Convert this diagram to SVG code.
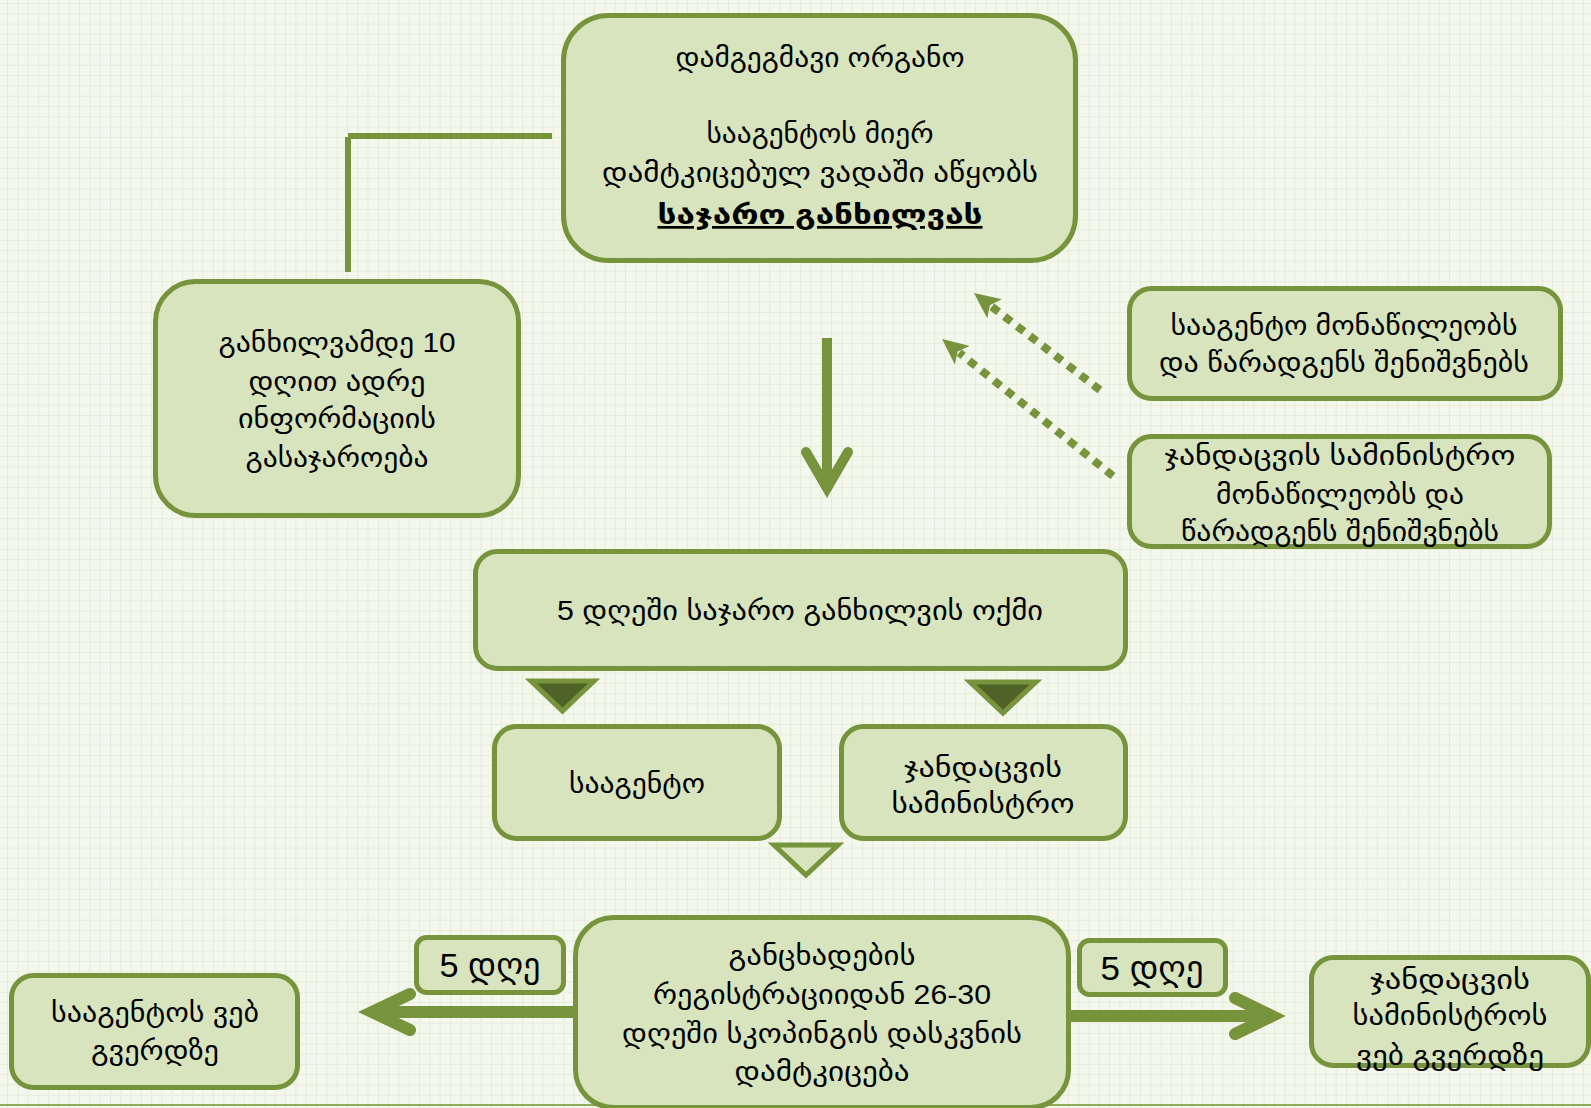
<svg xmlns="http://www.w3.org/2000/svg" width="1591" height="1108" viewBox="0 0 1591 1108">
<defs>
<pattern id="grid" x="7" y="3" width="10.3" height="10.3" patternUnits="userSpaceOnUse">
<path d="M0,0.5 H10.3 M0.5,0 V10.3" stroke="#e6ecda" stroke-width="1" fill="none"/>
</pattern>
<marker id="dotHead" viewBox="0 0 26 24" markerWidth="26" markerHeight="24" refX="4" refY="12" orient="auto" markerUnits="userSpaceOnUse">
<path d="M0,0 L26,12 L0,24 L6,12 Z" fill="#77933c"/>
</marker>
<style>
.box{fill:#d7e4bd;stroke:#77933c;stroke-width:5}
.t{font-family:'Liberation Sans','DejaVu Sans',sans-serif;font-size:27px;fill:#000;text-anchor:middle}
.big{font-size:34px}
.bold{font-weight:bold;text-decoration:underline}
.line{stroke:#77933c;fill:none}
.dot{stroke:#77933c;stroke-width:8;fill:none;stroke-dasharray:8.5 7.5}
.tri{fill:#4f6228;stroke:#77933c;stroke-width:5;stroke-linejoin:miter}
.tril{fill:#d7e4bd;stroke:#77933c;stroke-width:5;stroke-linejoin:miter}
</style>
</defs>
<rect x="0" y="0" width="1591" height="1108" fill="#f3f7ec"/>
<rect x="0" y="0" width="1591" height="1108" fill="url(#grid)"/>
<line x1="0" y1="1105" x2="1591" y2="1105" stroke="#8eab5a" stroke-width="2"/>

<g id="connectors">
<line class="line" x1="348" y1="136" x2="552" y2="136" stroke-width="6"/>
<line class="line" x1="348" y1="137" x2="348" y2="272" stroke-width="6"/>
<line class="line" x1="827" y1="338" x2="827" y2="490" stroke-width="10"/>
<polyline class="line" points="806,452 827,488 848,452" stroke-width="10" stroke-linecap="round" stroke-linejoin="miter"/>
<line class="dot" x1="1100" y1="390" x2="991.4" y2="306.4" marker-end="url(#dotHead)"/>
<line class="dot" x1="1113" y1="476" x2="959.2" y2="352.7" marker-end="url(#dotHead)"/>
<polygon class="tri" points="531,681 594,681 562.5,711"/>
<polygon class="tri" points="970,682 1036,682 1003,713"/>
<polygon class="tril" points="774,845 838,845 806,875"/>
<line class="line" x1="575" y1="1012" x2="378" y2="1012" stroke-width="12"/>
<polyline class="line" points="410,994 372,1012 410,1030" stroke-width="12" stroke-linecap="round" stroke-linejoin="miter"/>
<line class="line" x1="1069" y1="1016" x2="1266" y2="1016" stroke-width="12"/>
<polyline class="line" points="1235,998 1272,1016 1235,1034" stroke-width="12" stroke-linecap="round" stroke-linejoin="miter"/>
</g>

<g id="node-organ">
<rect class="box" x="563.5" y="15.5" width="512" height="245" rx="45"/>
<text class="t" x="820" y="67" textLength="289" lengthAdjust="spacingAndGlyphs">დამგეგმავი ორგანო</text>
<text class="t" x="820" y="143" textLength="227" lengthAdjust="spacingAndGlyphs">სააგენტოს მიერ</text>
<text class="t" x="820" y="182" textLength="436" lengthAdjust="spacingAndGlyphs">დამტკიცებულ ვადაში აწყობს</text>
<text class="t bold" x="820" y="224" textLength="325" lengthAdjust="spacingAndGlyphs">საჯარო განხილვას</text>
</g>

<g id="node-announce">
<rect class="box" x="155.5" y="281.5" width="363" height="234" rx="40"/>
<text class="t" x="337" y="352" textLength="237" lengthAdjust="spacingAndGlyphs">განხილვამდე 10</text>
<text class="t" x="337" y="391" textLength="177" lengthAdjust="spacingAndGlyphs">დღით ადრე</text>
<text class="t" x="337" y="428" textLength="198" lengthAdjust="spacingAndGlyphs">ინფორმაციის</text>
<text class="t" x="337" y="467" textLength="183" lengthAdjust="spacingAndGlyphs">გასაჯაროება</text>
</g>

<g id="node-agency-part">
<rect class="box" x="1129.5" y="288.5" width="431" height="110" rx="22"/>
<text class="t" x="1344" y="335" textLength="347" lengthAdjust="spacingAndGlyphs">სააგენტო მონაწილეობს</text>
<text class="t" x="1344" y="372" textLength="370" lengthAdjust="spacingAndGlyphs">და წარადგენს შენიშვნებს</text>
</g>

<g id="node-ministry-part">
<rect class="box" x="1129.5" y="436.5" width="420" height="110" rx="22"/>
<text class="t" x="1340" y="465" textLength="351" lengthAdjust="spacingAndGlyphs">ჯანდაცვის სამინისტრო</text>
<text class="t" x="1340" y="504" textLength="248" lengthAdjust="spacingAndGlyphs">მონაწილეობს და</text>
<text class="t" x="1340" y="541" textLength="318" lengthAdjust="spacingAndGlyphs">წარადგენს შენიშვნებს</text>
</g>

<g id="node-protocol">
<rect class="box" x="475.5" y="551.5" width="650" height="117" rx="22"/>
<text class="t" x="800" y="620" textLength="486" lengthAdjust="spacingAndGlyphs">5 დღეში საჯარო განხილვის ოქმი</text>
</g>

<g id="node-agency">
<rect class="box" x="494.5" y="726.5" width="285" height="112" rx="22"/>
<text class="t" x="637" y="793" textLength="136" lengthAdjust="spacingAndGlyphs">სააგენტო</text>
</g>

<g id="node-ministry">
<rect class="box" x="841.5" y="726.5" width="284" height="112" rx="22"/>
<text class="t" x="983" y="777" textLength="158" lengthAdjust="spacingAndGlyphs">ჯანდაცვის</text>
<text class="t" x="983" y="813" textLength="183" lengthAdjust="spacingAndGlyphs">სამინისტრო</text>
</g>

<g id="node-scoping">
<rect class="box" x="575.5" y="917.5" width="493" height="190" rx="38"/>
<text class="t" x="822" y="965" textLength="187" lengthAdjust="spacingAndGlyphs">განცხადების</text>
<text class="t" x="822" y="1004" textLength="338" lengthAdjust="spacingAndGlyphs">რეგისტრაციიდან 26-30</text>
<text class="t" x="822" y="1043" textLength="400" lengthAdjust="spacingAndGlyphs">დღეში სკოპინგის დასკვნის</text>
<text class="t" x="822" y="1081" textLength="175" lengthAdjust="spacingAndGlyphs">დამტკიცება</text>
</g>

<g id="label-5-left">
<rect class="box" x="416.5" y="937.5" width="147" height="55" rx="10"/>
<text class="t big" x="490" y="977" textLength="101" lengthAdjust="spacingAndGlyphs">5 დღე</text>
</g>

<g id="label-5-right">
<rect class="box" x="1079.5" y="940.5" width="146" height="54" rx="10"/>
<text class="t big" x="1152" y="980" textLength="103" lengthAdjust="spacingAndGlyphs">5 დღე</text>
</g>

<g id="node-agency-web">
<rect class="box" x="11.5" y="975.5" width="286" height="112" rx="22"/>
<text class="t" x="155" y="1022" textLength="208" lengthAdjust="spacingAndGlyphs">სააგენტოს ვებ</text>
<text class="t" x="155" y="1060" textLength="128" lengthAdjust="spacingAndGlyphs">გვერდზე</text>
</g>

<g id="node-ministry-web">
<rect class="box" x="1311.5" y="957.5" width="277" height="108" rx="22"/>
<text class="t" x="1450" y="989" textLength="160" lengthAdjust="spacingAndGlyphs">ჯანდაცვის</text>
<text class="t" x="1450" y="1025" textLength="195" lengthAdjust="spacingAndGlyphs">სამინისტროს</text>
<text class="t" x="1450" y="1065" textLength="188" lengthAdjust="spacingAndGlyphs">ვებ გვერდზე</text>
</g>
</svg>
